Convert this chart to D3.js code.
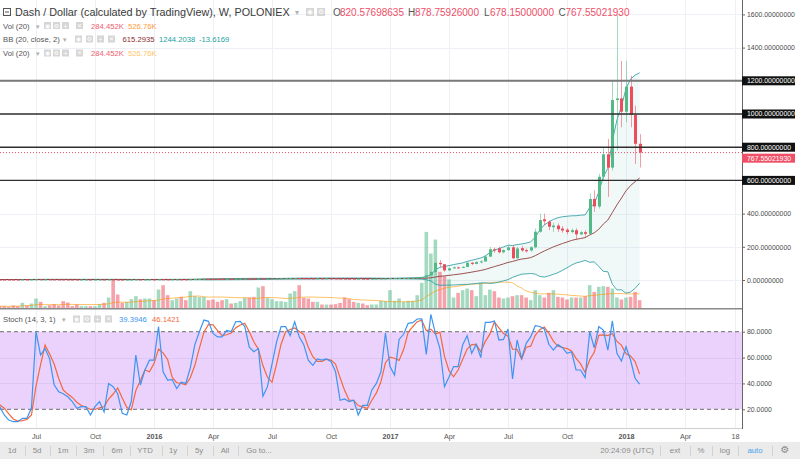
<!DOCTYPE html>
<html><head><meta charset="utf-8">
<script src="https://cdn.jsdelivr.net/npm/d3@7"></script>
<style>
body{margin:0;background:#fff;}
svg{display:block;font-family:"Liberation Sans",Arial,sans-serif;}
</style></head><body>
<svg id="c" width="800" height="459"></svg>
<script>
// ---------- DATA (weekly bars, DASH/USD, Poloniex) ----------
const firstWeek = "2015-05-04";
const lastWeek  = "2018-01-22";
const open = [
2.95,2.85,2.80,2.75,2.70,2.65,2.60,3.10,2.95,3.30,
3.90,3.70,3.80,3.60,3.40,3.25,3.00,2.85,2.75,2.65,
2.75,2.85,2.70,2.80,2.90,2.75,3.20,2.60,2.45,2.35,
2.45,2.70,3.10,2.95,3.15,3.30,3.20,4.10,3.60,3.40,
3.60,3.80,3.70,3.60,4.40,5.60,6.60,7.90,7.50,7.20,
7.00,6.80,7.30,7.10,7.60,8.00,8.40,8.10,7.90,8.60,
6.90,7.30,8.00,8.60,10.20,10.80,11.00,11.60,10.30,9.90,
9.40,9.10,9.60,9.40,9.60,9.30,8.90,8.30,8.10,7.90,
7.70,7.90,7.80,7.60,8.00,8.40,8.80,9.10,11.40,11.60,
11.90,12.20,12.80,13.50,15.00,17.50,28.0,48.0,103.0,95.0,
58.0,70.0,76.0,74.0,79.0,104.0,97.0,108.0,112.0,141.0,
185.0,191.0,167.0,180.0,197.0,131.0,192.0,180.0,178.0,197.0,
291.0,366.0,351.0,318.0,328.0,310.0,303.0,289.0,300.0,275.0,
288.0,278.0,488.0,443.0,622.0,757.0,677.0,1084.0,1094.0,1014.0,
1165.0,994.0,820.57698635];
const high = [
3.05,2.95,2.90,2.85,2.80,2.75,3.25,3.20,3.45,4.10,
4.00,3.90,3.90,3.70,3.50,3.35,3.10,2.95,2.85,2.85,
2.95,2.90,2.90,3.00,2.95,3.35,3.30,2.70,2.55,2.55,
2.80,3.25,3.20,3.25,3.45,3.40,4.30,4.20,3.70,3.70,
3.95,3.90,3.80,4.60,5.90,6.90,8.20,8.10,7.70,7.40,
7.10,7.45,7.50,7.80,8.20,8.60,8.60,8.30,8.80,8.70,
7.50,8.20,8.80,10.50,11.20,11.40,11.90,11.70,10.50,10.10,
9.60,9.80,9.80,9.80,9.80,9.50,9.00,8.50,8.30,8.00,
8.10,8.10,7.95,8.20,8.60,9.00,9.30,12.50,12.10,12.20,
12.50,13.20,14.00,15.50,18.00,31.0,52.0,107.0,120.0,97.0,
74.0,82.0,80.0,84.0,110.0,108.0,115.0,120.0,150.0,200.0,
195.0,200.0,185.0,205.0,210.0,200.0,205.0,190.0,205.0,310.0,
400.0,400.0,360.0,345.0,340.0,325.0,312.0,310.0,312.0,295.0,
300.0,520.0,540.0,640.0,800.0,850.0,1200.0,1600.0,1320.0,1320.0,
1230.0,1050.0,878.75926];
const low = [
2.70,2.70,2.65,2.60,2.55,2.50,2.55,2.85,2.85,3.20,
3.55,3.60,3.50,3.30,3.15,2.90,2.75,2.65,2.55,2.55,
2.65,2.60,2.60,2.70,2.65,2.65,2.50,2.35,2.25,2.25,
2.35,2.60,2.85,2.85,3.05,3.05,3.10,3.45,3.30,3.30,
3.50,3.55,3.45,3.50,4.20,5.40,6.40,7.20,7.00,6.80,
6.60,6.70,6.90,7.00,7.50,7.90,7.90,7.70,7.80,6.50,
6.70,7.20,7.80,8.40,10.00,10.50,10.70,10.00,9.70,9.20,
8.90,9.00,9.20,9.30,9.10,8.70,8.10,7.90,7.70,7.50,
7.50,7.60,7.40,7.50,7.90,8.30,8.60,9.00,10.40,11.20,
11.50,12.00,12.50,13.30,14.80,17.0,26.0,45.0,78.0,50.0,
55.0,67.0,70.0,72.0,77.0,90.0,95.0,100.0,110.0,138.0,
165.0,160.0,160.0,175.0,125.0,128.0,170.0,165.0,170.0,190.0,
285.0,330.0,300.0,290.0,290.0,285.0,275.0,280.0,240.0,270.0,
260.0,275.0,410.0,430.0,600.0,500.0,660.0,780.0,920.0,950.0,
920.0,700.0,678.15];
const close = [
2.85,2.80,2.75,2.70,2.65,2.60,3.10,2.95,3.30,3.90,
3.70,3.80,3.60,3.40,3.25,3.00,2.85,2.75,2.65,2.75,
2.85,2.70,2.80,2.90,2.75,3.20,2.60,2.45,2.35,2.45,
2.70,3.10,2.95,3.15,3.30,3.20,4.10,3.60,3.40,3.60,
3.80,3.70,3.60,4.40,5.60,6.60,7.90,7.50,7.20,7.00,
6.80,7.30,7.10,7.60,8.00,8.40,8.10,7.90,8.60,6.90,
7.30,8.00,8.60,10.20,10.80,11.00,11.60,10.30,9.90,9.40,
9.10,9.60,9.40,9.60,9.30,8.90,8.30,8.10,7.90,7.70,
7.90,7.80,7.60,8.00,8.40,8.80,9.10,11.40,11.60,11.90,
12.20,12.80,13.50,15.00,17.50,28.0,48.0,103.0,95.0,58.0,
70.0,76.0,74.0,79.0,104.0,97.0,108.0,112.0,141.0,185.0,
178.0,167.0,180.0,197.0,131.0,190.0,178.0,173.0,197.0,291.0,
361.0,354.0,321.0,328.0,306.0,298.0,289.0,300.0,275.0,288.0,
278.0,488.0,443.0,622.0,757.0,677.0,1084.0,1094.0,1014.0,1165.0,
994.0,820.57698635,767.55021930];
// volume in thousands
const volume = [
80,80,80,57,103,80,194,103,171,343,
229,80,114,149,103,251,206,80,137,80,
80,80,80,149,194,377,971,480,194,229,
320,423,320,343,343,286,651,800,457,286,
343,400,286,594,423,400,400,286,309,229,
286,320,171,194,251,366,377,400,720,766,
366,320,251,251,229,514,594,800,366,343,
229,229,137,137,137,149,194,377,320,229,
194,171,114,137,137,263,251,629,263,343,
229,263,263,457,880,2629,1886,2366,1257,1109,
1000,377,537,629,686,629,423,880,457,651,
594,377,343,377,423,457,457,377,286,629,
457,377,537,629,400,377,309,377,377,377,
423,800,571,743,766,743,686,377,309,377,
400,571,284.452];
// Stochastic %K (14,3,1)
const stochK = [
25,22,15.6,11.7,10.4,10.4,13,13,21,80,
62,67,59,39,33.6,32,29.7,25.9,20.8,22,
22,15.6,22,25.9,18,40,37.5,32,16.9,15.6,
26,62,38.8,50.4,58,58,84,49,42.6,43,
36,41,40,52,70,80,89,88,78.7,76,
76,81,80,87.7,88,84,68,64.5,67,30,
37.5,55,72,84,84,77,87.7,76,70,58,
54,59,58,59,57,49,27,28,26,27,
15.6,23,23,35,40,49,79,53,46.5,74,
78,86.5,87,89.8,90,62.5,93.4,78.7,67,37.5,
45,53,53,69.7,76.9,63.3,70.3,60,87.2,87.2,
88.3,73.6,74,82.1,43.4,73.6,59.4,71,76,84.6,
84,82.1,70.3,65.8,70,67.6,63.3,64.5,50.4,50.4,
44.5,80,67.6,83.9,81.3,65.8,88.3,63.3,57.3,68.4,
58.1,44,39.3946];
const levelLines = [1200, 1000, 800, 600];
const priceTicks = [0,200,400,600,800,1000,1200,1400,1600];
const stochTicks = [20,40,60,80];
const timeTicks = [
 ["2015-07-06","Jul"],["2015-10-05","Oct"],["2016-01-04","2016"],["2016-04-04","Apr"],
 ["2016-07-04","Jul"],["2016-10-03","Oct"],["2017-01-02","2017"],["2017-04-03","Apr"],
 ["2017-07-03","Jul"],["2017-10-02","Oct"],["2018-01-01","2018"],["2018-04-02","Apr"],["2018-06-18","18"]];
const legendVol = ["284.452K","526.76K"];
const legendBB = ["615.2935","1244.2038","-13.6169"];
const legendStoch = ["39.3946","46.1421"];
const toolbarLeft = ["1d","5d","1m","3m","6m","YTD","1y","5y","All","Go to..."];
const toolbarRight = ["20:24:09 (UTC)","ext","%","log","auto"];

// ---------- SETUP ----------
const svg = d3.select("#c");
const FONT = '"Liberation Sans",Arial,sans-serif';
const start = Date.parse(firstWeek);
const WEEK = 7*864e5;
const idxOf = s => (Date.parse(s) - start)/WEEK;
const dates = d3.utcMonday.range(new Date(start), new Date(Date.parse(lastWeek)+864e5));
const bars = dates.map((d,i)=>({i,d,o:open[i],h:high[i],l:low[i],c:close[i],v:volume[i]}));

const PR = 742;                 // right edge of panes
const MAIN_B = 308, STO_T = 310, STO_B = 428;
const x = d3.scaleLinear().domain([idxOf("2015-07-06"), idxOf("2018-01-01")]).range([36, 626]);
const y = d3.scaleLinear().domain([0,1600]).range([280,14.4]);
const yVol = d3.scaleLinear().domain([0,2700]).range([308.5,229.8]);
const ys = d3.scaleLinear().domain([20,80]).range([409.3,331.7]);

const UP="#53b987", DN="#eb4d5c";

// indicators
const bb = close.map((c,i)=>{const w=close.slice(Math.max(0,i-19),i+1);const m=d3.mean(w);
  const sd=Math.sqrt(d3.mean(w,v=>(v-m)*(v-m)));return {i,m,u:m+2*sd,l:m-2*sd};});
const volMA = volume.map((v,i)=>({i,v:d3.mean(volume.slice(Math.max(0,i-19),i+1))}));
const stochD = stochK.map((k,i)=>({i,v:d3.mean(stochK.slice(Math.max(0,i-2),i+1))}));

const defs = svg.append("defs");
defs.append("clipPath").attr("id","cpMain").append("rect").attr("x",0).attr("y",0).attr("width",PR).attr("height",MAIN_B);
defs.append("clipPath").attr("id","cpSto").append("rect").attr("x",0).attr("y",STO_T).attr("width",PR).attr("height",STO_B-STO_T);

// ---------- GRID ----------
const tIdx = timeTicks.map(t=>idxOf(t[0]));
const grid = svg.append("g").attr("stroke","#edf1f5").attr("stroke-width",1);
grid.selectAll(".vg").data(tIdx.filter(t=>x(t)<PR)).join("line")
  .attr("x1",d=>Math.round(x(d))+0.5).attr("x2",d=>Math.round(x(d))+0.5).attr("y1",0).attr("y2",STO_B);
grid.selectAll(".hg").data(priceTicks).join("line")
  .attr("x1",0).attr("x2",PR).attr("y1",d=>Math.round(y(d))+0.5).attr("y2",d=>Math.round(y(d))+0.5);
grid.selectAll(".sg").data([40,60]).join("line")
  .attr("x1",0).attr("x2",PR).attr("y1",d=>Math.round(ys(d))+0.5).attr("y2",d=>Math.round(ys(d))+0.5);

// ---------- MAIN PANE ----------
const main = svg.append("g").attr("clip-path","url(#cpMain)");
// BB fill
main.append("path").datum(bb).attr("fill","rgba(40,160,160,0.07)")
  .attr("d",d3.area().x(d=>x(d.i)).y0(d=>y(d.l)).y1(d=>y(d.u)));
// volume
main.append("g").selectAll("rect").data(bars).join("rect")
  .attr("x",d=>x(d.i)-1.8).attr("width",3.6)
  .attr("y",d=>yVol(d.v)).attr("height",d=>yVol(0)-yVol(d.v))
  .attr("fill",d=>d.c>=d.o?"rgba(83,185,135,0.52)":"rgba(235,77,92,0.52)");
main.append("path").datum(volMA).attr("fill","none").attr("stroke","rgba(255,152,0,0.6)").attr("stroke-width",1)
  .attr("d",d3.line().x(d=>x(d.i)).y(d=>yVol(d.v)));
// BB lines
const bbLine = k => d3.line().x(d=>x(d.i)).y(d=>y(d[k]));
main.append("path").datum(bb).attr("fill","none").attr("stroke","#2f9ea2").attr("stroke-opacity",0.85).attr("d",bbLine("u"));
main.append("path").datum(bb).attr("fill","none").attr("stroke","#2f9ea2").attr("stroke-opacity",0.85).attr("d",bbLine("l"));
main.append("path").datum(bb).attr("fill","none").attr("stroke","#8d3434").attr("stroke-opacity",0.85).attr("d",bbLine("m"));
// candles
const cg = main.append("g");
cg.selectAll("line").data(bars).join("line")
  .attr("x1",d=>Math.round(x(d.i))+0.5).attr("x2",d=>Math.round(x(d.i))+0.5)
  .attr("y1",d=>y(d.h)).attr("y2",d=>y(d.l))
  .attr("stroke",d=>d.c>=d.o?UP:DN).attr("stroke-opacity",0.55);
cg.selectAll("rect").data(bars).join("rect")
  .attr("x",d=>Math.round(x(d.i))-1).attr("width",3)
  .attr("y",d=>y(Math.max(d.o,d.c)))
  .attr("height",d=>Math.max(1,Math.abs(y(d.o)-y(d.c))))
  .attr("fill",d=>d.c>=d.o?UP:DN);
// level lines
main.append("g").selectAll("line").data(levelLines).join("line")
  .attr("x1",0).attr("x2",PR).attr("y1",d=>y(d)).attr("y2",d=>y(d))
  .attr("stroke",d=>d===1200?"#7a7a7a":"#2e2e2e").attr("stroke-width",d=>d===1200?2:1.4);
// current price line
const last = bars[bars.length-1];
main.append("line").attr("x1",0).attr("x2",PR).attr("y1",y(last.c)).attr("y2",y(last.c))
  .attr("stroke","#ef5068").attr("stroke-dasharray","1,2");

// ---------- STOCH PANE ----------
const sto = svg.append("g").attr("clip-path","url(#cpSto)");
sto.append("rect").attr("x",0).attr("width",PR).attr("y",ys(80)).attr("height",ys(20)-ys(80)).attr("fill","rgba(150,30,240,0.2)");
sto.selectAll(".dl").data([80,20]).join("line").attr("x1",0).attr("x2",PR)
  .attr("y1",d=>ys(d)).attr("y2",d=>ys(d)).attr("stroke","#888").attr("stroke-width",1.3).attr("stroke-dasharray","4,3");
sto.append("path").datum(stochD).attr("fill","none").attr("stroke","#f4683c").attr("stroke-width",1.2)
  .attr("d",d3.line().x(d=>x(d.i)).y(d=>ys(d.v)));
sto.append("path").datum(stochK).attr("fill","none").attr("stroke","#3d95f0").attr("stroke-width",1.2)
  .attr("d",d3.line().x((d,i)=>x(i)).y(d=>ys(d)));

// pane borders
svg.append("line").attr("x1",0).attr("x2",PR).attr("y1",MAIN_B+0.8).attr("y2",MAIN_B+0.8).attr("stroke","#8a8a8a").attr("stroke-width",1.6);
svg.append("line").attr("x1",0).attr("x2",PR).attr("y1",STO_B+0.5).attr("y2",STO_B+0.5).attr("stroke","#cfcfcf");
svg.append("line").attr("x1",PR+0.5).attr("x2",PR+0.5).attr("y1",0).attr("y2",STO_B+1).attr("stroke","#666");

// ---------- AXES ----------
function styleAxis(g,fs){g.select(".domain").remove();
  g.selectAll("text").attr("font-size",fs).attr("fill","#4a4a4a").attr("font-family",FONT);
  g.selectAll(".tick line").attr("stroke","#666");}
const pa = svg.append("g").attr("transform",`translate(${PR},0)`)
  .call(d3.axisRight(y).tickValues(priceTicks).tickSize(3).tickPadding(2).tickFormat(d=>d.toFixed(8)));
styleAxis(pa,6.9);
const sa = svg.append("g").attr("transform",`translate(${PR},0)`)
  .call(d3.axisRight(ys).tickValues(stochTicks).tickSize(3).tickPadding(2).tickFormat(d=>d.toFixed(4)));
styleAxis(sa,6.9);
const ta = svg.append("g").attr("transform",`translate(0,${STO_B})`)
  .call(d3.axisBottom(x).tickValues(tIdx).tickSize(0).tickPadding(6).tickFormat((d,i)=>timeTicks[i][1]));
styleAxis(ta,7.2);
ta.selectAll("text").attr("font-weight",(d,i)=>/^\d{4}$/.test(timeTicks[i][1])?"bold":null).attr("fill","#555");

// price labels with boxes
const lab = svg.append("g").attr("font-family",FONT).attr("font-size",6.9);
levelLines.forEach(v=>{
  lab.append("rect").attr("x",PR).attr("y",y(v)-4.5).attr("width",53).attr("height",9).attr("fill","#111");
  lab.append("text").attr("x",PR+5).attr("y",y(v)).attr("dy","0.35em").attr("fill","#fff").text(v.toFixed(8));
});
const cy = y(last.c)+5.6;
lab.append("rect").attr("x",PR).attr("y",cy-4.5).attr("width",53).attr("height",9).attr("fill","#ef5068");
lab.append("text").attr("x",PR+5).attr("y",cy).attr("dy","0.35em").attr("fill","#fff").text(last.c.toFixed(8));

// ---------- LEGENDS ----------
const hd = svg.append("g").attr("font-family",FONT);
function icons(xs,yy,sz,glyphs){xs.forEach((xx,k)=>{
  hd.append("rect").attr("x",xx).attr("y",yy).attr("width",sz).attr("height",sz).attr("fill","#d6d6d6");
  hd.append("text").attr("x",xx+sz/2).attr("y",yy+sz/2).attr("dy","0.35em").attr("text-anchor","middle")
    .attr("font-size",sz*0.85).attr("fill","#fff").attr("font-family","DejaVu Sans").text(glyphs[k]);});}
// title row
hd.append("rect").attr("x",3.5).attr("y",8.5).attr("width",7).attr("height",7).attr("fill","none").attr("stroke","#555");
hd.append("line").attr("x1",5).attr("x2",9).attr("y1",12).attr("y2",12).attr("stroke","#555");
hd.append("text").attr("x",15).attr("y",16).attr("font-size",10.8).attr("fill","#3a3a3a")
  .text("Dash / Dollar (calculated by TradingView), W, POLONIEX");
hd.append("text").attr("x",295).attr("y",15).attr("font-size",8).attr("fill","#b0b0b0").text("▾");
icons([306,317],8,8,["◉","⚙"]);
const ohlc=[["O",last.o,333],["H",last.h,408],["L",last.l,484],["C",last.c,558.5]];
ohlc.forEach(([k,v,xx])=>{
  hd.append("text").attr("x",xx).attr("y",16).attr("font-size",10).attr("fill","#555").text(k);
  hd.append("text").attr("x",xx+(k==="L"?6:7)).attr("y",16).attr("font-size",10).attr("fill","#ef5068").text(v.toFixed(8));
});
// vol rows
function volRow(yb,maColor){
  hd.append("text").attr("x",3).attr("y",yb).attr("font-size",7.7).attr("fill","#555").text("Vol (20)");
  hd.append("text").attr("x",36).attr("y",yb).attr("font-size",7).attr("fill","#b0b0b0").text("▾");
  icons([44,53,62,76],yb-6.5,7,["◉","⚙","+","✕"]);
  hd.append("text").attr("x",91).attr("y",yb).attr("font-size",7.7).attr("fill","#f0606f").text(legendVol[0]);
  hd.append("text").attr("x",128).attr("y",yb).attr("font-size",7.7).attr("fill",maColor).text(legendVol[1]);
}
volRow(28.5,"#ff9a3c");
// BB row
hd.append("text").attr("x",3).attr("y",42).attr("font-size",7.7).attr("fill","#555").text("BB (20, close, 2)");
hd.append("text").attr("x",63).attr("y",42).attr("font-size",7).attr("fill","#b0b0b0").text("▾");
icons([75,86,97,108],35.5,7,["◉","⚙","+","✕"]);
hd.append("text").attr("x",122.5).attr("y",42).attr("font-size",7.7).attr("fill","#8b2d2d").text(legendBB[0]);
hd.append("text").attr("x",159).attr("y",42).attr("font-size",7.7).attr("fill","#26a0a0").text(legendBB[1]);
hd.append("text").attr("x",199).attr("y",42).attr("font-size",7.7).attr("fill","#26a0a0").text(legendBB[2]);
volRow(56,"#ffc46a");
// stoch row
hd.append("text").attr("x",3).attr("y",322).attr("font-size",7.7).attr("fill","#555").text("Stoch (14, 3, 1)");
hd.append("text").attr("x",62).attr("y",322).attr("font-size",7).attr("fill","#b0b0b0").text("▾");
icons([73,83.5,94,105],315.5,7,["◉","⚙","+","✕"]);
hd.append("text").attr("x",119).attr("y",322).attr("font-size",7.7).attr("fill","#3d95f0").text(legendStoch[0]);
hd.append("text").attr("x",152).attr("y",322).attr("font-size",7.7).attr("fill","#f4683c").text(legendStoch[1]);

// ---------- TOOLBAR ----------
const tb = svg.append("g").attr("font-family",FONT);
tb.append("rect").attr("x",0).attr("y",442).attr("width",800).attr("height",17).attr("fill","#ebebeb");
const lx=[12,37,63,89,117,145,173,199,225,259];
tb.selectAll(".tl").data(toolbarLeft).join("text").attr("x",(d,i)=>lx[i]).attr("y",452.5)
  .attr("text-anchor","middle").attr("font-size",7.8).attr("fill","#8c8c8c").text(d=>d);
const rx=[627,675,701,725,755];
tb.selectAll(".tr").data(toolbarRight).join("text").attr("x",(d,i)=>rx[i]).attr("y",452.5)
  .attr("text-anchor","middle").attr("font-size",7.8).attr("fill",d=>d==="auto"?"#4aa3e8":"#8c8c8c").text(d=>d);
tb.selectAll(".sp").data([25,50,76,103,130,162,187,213,238,660,690,712,738,772]).join("line")
  .attr("x1",d=>d+0.5).attr("x2",d=>d+0.5).attr("y1",446).attr("y2",456).attr("stroke","#d2d2d2");
tb.append("text").attr("x",785).attr("y",453).attr("text-anchor","middle").attr("font-size",10)
  .attr("font-family","DejaVu Sans").attr("fill","#8c8c8c").text("⚙");
</script>
</body></html>
